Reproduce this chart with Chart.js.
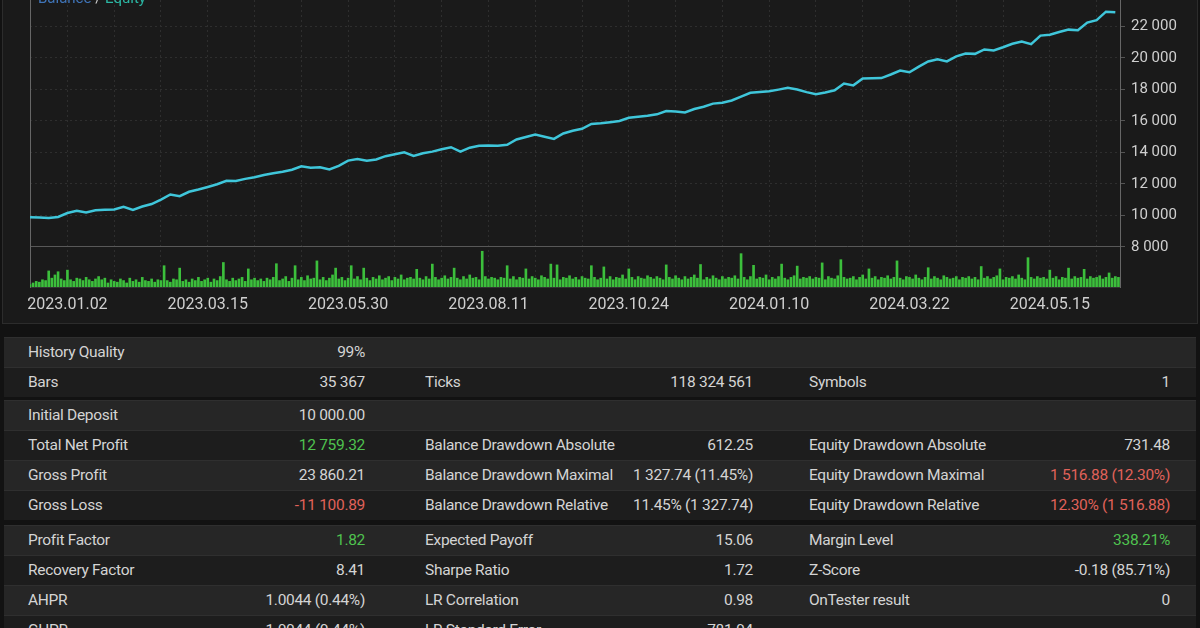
<!DOCTYPE html>
<html>
<head>
<meta charset="utf-8">
<script src="https://cdn.jsdelivr.net/npm/chart.js@4.4.1/dist/chart.umd.min.js"></script>
<style>
  body { margin: 0; width: 1200px; height: 628px; overflow: hidden; background: #121212; font-family: Roboto, sans-serif; position: relative; }
  #chartPanel { position: absolute; left: 2px; top: -2px; width: 1194px; height: 324px; background: #1a1a1a; border: 1px solid #2c2c2c; }
  #chartBox { position: absolute; left: 0; top: -20px; width: 1200px; height: 342px; }
  #legend { position: absolute; left: 38px; top: -11px; font-size: 15px; color: #cfcfcf; }
  #legend .bal { color: #3f74b8; }
  #legend .eq { color: #2bb7a4; }
  #stats { position: absolute; left: 4px; top: 337px; width: 1192px; }
  .row { position: relative; height: 29px; border-top: 1px solid #2f2f2f; font-size: 15.5px; letter-spacing: -0.3px; line-height: 29px; color: #d4d4d4; }
  .row.light { background: #262626; }
  .row.dark { background: #1d1d1d; }
  .row.gap3 { margin-top: 3px; }
  .row.gap5 { margin-top: 5px; }
  .row span { position: absolute; top: 0; white-space: nowrap; }
  .pos { color: #4fc24f; }
  .neg { color: #e0625a; }
</style>
</head>
<body>
<div id="chartPanel"></div>
<div id="chartBox"><canvas id="equity"></canvas></div>
<div id="legend"><span class="bal">Balance</span> / <span class="eq">Equity</span></div>
<div id="stats"></div>

<script>
// x tick labels, one every 15 steps (grid every 5)
const tickLabels = ['2023.01.02', '2023.03.15', '2023.05.30', '2023.08.11',
                    '2023.10.24', '2024.01.10', '2024.03.22', '2024.05.15'];
const yTickValues = [8000, 10000, 12000, 14000, 16000, 18000, 20000, 22000, 24000];

// equity curve, one value per step
const equity = [
  9880, 9860, 9830, 9900, 10150, 10290, 10180, 10320, 10360, 10380,
  10550, 10350, 10560, 10720, 11000, 11330, 11220, 11500, 11640, 11800,
  11980, 12200, 12180, 12320, 12420, 12560, 12680, 12770, 12900, 13120,
  13020, 13060, 12920, 13150, 13480, 13580, 13470, 13550, 13760, 13880,
  14010, 13780, 13950, 14050, 14200, 14330, 14050, 14300, 14420, 14440,
  14420, 14480, 14820, 14980, 15130, 15000, 14860, 15200, 15380, 15500,
  15810, 15850, 15920, 16000, 16200, 16270, 16330, 16420, 16630, 16600,
  16540, 16760, 16900, 17100, 17150, 17300, 17550, 17790, 17840, 17880,
  17990, 18100, 18000, 17830, 17700, 17810, 17950, 18380, 18260, 18700,
  18710, 18720, 18950, 19200, 19090, 19450, 19780, 19920, 19780, 20100,
  20280, 20260, 20540, 20480, 20680, 20900, 21050, 20880, 21420, 21480,
  21650, 21800, 21760, 22250, 22400, 22940, 22900
];

// lower panel bars, three per step
const volumes = [
  6, 10, 14, 12, 18, 16, 40, 22, 30, 38, 20, 16, 42, 18, 14, 22, 20, 16, 24, 18, 14, 20, 26, 18, 22,
  10, 18, 14, 12, 20, 16, 10, 22, 14, 18, 12, 24, 16, 14, 20, 12, 18, 16, 53, 16, 12, 20, 18, 47, 14,
  18, 12, 20, 16, 24, 14, 18, 22, 12, 20, 16, 26, 61, 18, 14, 22, 16, 20, 24, 14, 45, 18, 22, 16, 20,
  14, 22, 18, 24, 58, 16, 20, 26, 14, 22, 53, 18, 24, 16, 28, 20, 22, 65, 18, 24, 16, 22, 30, 47, 20,
  24, 16, 22, 53, 20, 26, 18, 47, 22, 16, 24, 20, 28, 18, 22, 26, 16, 24, 20, 30, 18, 22, 24, 20, 44,
  22, 18, 26, 20, 57, 24, 18, 22, 28, 20, 24, 47, 22, 18, 26, 20, 30, 22, 24, 18, 89, 26, 20, 24, 22,
  18, 24, 22, 53, 20, 26, 18, 24, 22, 45, 20, 26, 22, 18, 28, 24, 20, 57, 22, 55, 18, 24, 22, 28, 20,
  24, 18, 26, 22, 20, 53, 24, 18, 22, 50, 20, 26, 18, 24, 22, 30, 20, 45, 24, 18, 26, 22, 20, 28, 24,
  20, 26, 22, 18, 55, 24, 20, 28, 22, 18, 26, 20, 24, 30, 22, 56, 18, 24, 20, 28, 22, 18, 26, 20, 24,
  22, 28, 20, 83, 24, 18, 26, 54, 20, 24, 22, 30, 18, 24, 20, 26, 57, 22, 18, 24, 28, 52, 20, 24, 22,
  26, 20, 24, 22, 60, 18, 26, 22, 20, 28, 68, 24, 20, 22, 26, 18, 24, 30, 20, 45, 22, 26, 18, 24, 22,
  28, 20, 24, 65, 22, 18, 26, 24, 20, 30, 22, 18, 24, 48, 20, 26, 22, 18, 28, 24, 20, 22, 26, 18, 24,
  22, 26, 20, 24, 18, 51, 22, 26, 20, 24, 28, 45, 18, 24, 22, 26, 20, 30, 22, 18, 73, 24, 20, 26, 22,
  24, 20, 42, 22, 26, 18, 24, 22, 47, 20, 26, 22, 24, 44, 20, 26, 22, 24, 28, 20, 24, 35, 22, 26, 24
];

// report table: [label, value, tone]
const statRows = [
  [['History Quality', '99%']],
  [['Bars', '35 367'], ['Ticks', '118 324 561'], ['Symbols', '1']],
  [['Initial Deposit', '10 000.00']],
  [['Total Net Profit', '12 759.32', 'pos'], ['Balance Drawdown Absolute', '612.25'], ['Equity Drawdown Absolute', '731.48']],
  [['Gross Profit', '23 860.21'], ['Balance Drawdown Maximal', '1 327.74 (11.45%)'], ['Equity Drawdown Maximal', '1 516.88 (12.30%)', 'neg']],
  [['Gross Loss', '-11 100.89', 'neg'], ['Balance Drawdown Relative', '11.45% (1 327.74)'], ['Equity Drawdown Relative', '12.30% (1 516.88)', 'neg']],
  [['Profit Factor', '1.82', 'pos'], ['Expected Payoff', '15.06'], ['Margin Level', '338.21%', 'pos']],
  [['Recovery Factor', '8.41'], ['Sharpe Ratio', '1.72'], ['Z-Score', '-0.18 (85.71%)']],
  [['AHPR', '1.0044 (0.44%)'], ['LR Correlation', '0.98'], ['OnTester result', '0']],
  [['GHPR', '1.0044 (0.44%)'], ['LR Standard Error', '781.94']]
];

const STEP_BARS = 1 / 3;
const GRID = '#2e2e2e';
const AXIS = '#666666';

const fmt = v => String(v).replace(/\B(?=(\d{3})+(?!\d))/g, ' ');

// Table
const colLabel = [24, 421, 805];
const colValueRight = [831, 443, 26];
const statsEl = document.getElementById('stats');
statRows.forEach((cells, r) => {
    const row = document.createElement('div');
    row.className = 'row ' + (r % 2 === 0 ? 'light' : 'dark');
    if (r === 2) row.className += ' gap3';
    if (r === 6) row.className += ' gap5';
    cells.forEach((c, i) => {
        const l = document.createElement('span');
        l.textContent = c[0];
        l.style.left = colLabel[i] + 'px';
        const v = document.createElement('span');
        v.textContent = c[1];
        v.style.right = colValueRight[i] + 'px';
        if (c[2]) v.className = c[2];
        row.appendChild(l);
        row.appendChild(v);
    });
    statsEl.appendChild(row);
});

// Chart
const xTicks = [];
for (let u = 4; u <= 116; u += 5) xTicks.push(u);

new Chart(document.getElementById('equity'), {
    data: {
        datasets: [
            {
                type: 'line',
                data: equity.map((v, i) => ({x: i, y: v})),
                yAxisID: 'y',
                borderColor: '#3fc6da',
                borderWidth: 2.5,
                pointRadius: 0,
                tension: 0
            },
            {
                type: 'bar',
                data: volumes.map((v, i) => ({x: i * STEP_BARS, y: v})),
                yAxisID: 'y2',
                backgroundColor: '#3cbf3c',
                barThickness: 2,
                grouped: false
            }
        ]
    },
    options: {
        responsive: true,
        maintainAspectRatio: false,
        animation: false,
        layout: {padding: {top: 14, left: 30, right: 0, bottom: 5}},

        // Scales
        scales: {
            x: {
                type: 'linear',
                min: 0,
                max: 116.5,
                offset: false,
                afterBuildTicks: s => { s.ticks = xTicks.map(v => ({value: v})); },
                afterFit: s => { s.height = 30; },
                grid: {color: GRID, drawTicks: false, offset: false},
                border: {color: '#333333', dash: [2, 3]},
                ticks: {
                    padding: 8,
                    color: '#cfcfcf',
                    font: {family: 'Roboto', size: 16},
                    maxRotation: 0,
                    autoSkip: false,
                    callback: v => ((v - 4) % 15 === 0 ? tickLabels[(v - 4) / 15] : '')
                }
            },
            y: {
                position: 'right',
                min: 5450,
                max: 24000,
                afterBuildTicks: s => { s.ticks = yTickValues.map(v => ({value: v})); },
                afterFit: s => { s.width = 80; },
                grid: {color: GRID, tickColor: '#555555', tickLength: 5},
                border: {color: AXIS, dash: [2, 3]},
                ticks: {
                    padding: 6,
                    color: '#cfcfcf',
                    font: {family: 'Roboto', size: 15},
                    callback: v => fmt(v)
                }
            },
            y2: {
                position: 'right',
                min: 0,
                max: 727,
                afterBuildTicks: s => { s.ticks = [{value: 100}]; },
                afterFit: s => { s.width = 0; },
                grid: {color: '#585858', drawTicks: false},
                border: {display: false},
                ticks: {display: false}
            },
            yl: {
                position: 'left',
                afterFit: s => { s.width = 0; },
                grid: {drawOnChartArea: false, drawTicks: false},
                border: {color: AXIS},
                ticks: {display: false}
            }
        },

        plugins: {
            legend: {display: false},
            title: {display: false},
            tooltip: {enabled: false}
        }
    }
});
</script>
</body>
</html>
